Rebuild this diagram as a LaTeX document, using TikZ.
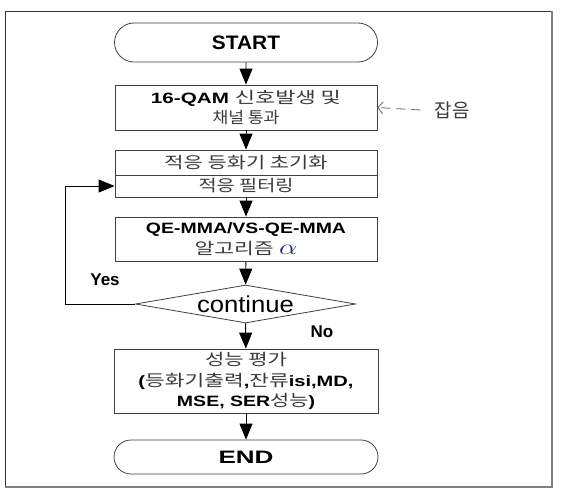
\documentclass[tikz,border=0pt]{standalone}
\usepackage{fontspec}
\usepackage{graphicx}
\setmainfont{Liberation Sans}
\newfontfamily\kr{Noto Sans CJK KR}
\usetikzlibrary{shapes.geometric,shapes.misc,arrows.meta}
\newcommand\fw[2]{\resizebox{#1pt}{\height}{#2}}
\newcommand\kk[1]{{\kr\fontsize{16}{20.5}\selectfont\color{krgray}#1}}
\definecolor{krgray}{HTML}{3A3A3A}
\definecolor{alphablue}{HTML}{1F2F7A}
\begin{document}
\begin{tikzpicture}[x=1pt,y=-1pt,
  box/.style={draw=black!75, line width=0.8pt, rectangle, minimum width=262pt, inner sep=0pt, align=center, font=\fontsize{15}{20.5}\selectfont},
  term/.style={draw=black!75, line width=0.8pt, rounded rectangle, minimum width=263pt, inner sep=0pt},
  arr/.style={-{Triangle[length=16pt,width=13pt]}, line width=0.9pt, black},
  kt/.style={text=krgray}]
\useasboundingbox (0,0) rectangle (572,489);
\fill[white] (0,0) rectangle (572,489);
% frame
\draw[black!80, line width=0.8pt] (552,11) -- (5,11) -- (5,487);
\draw[gray, line width=1.8pt] (5,487) -- (552,487) -- (552,11);
% nodes
\node[term, minimum height=39pt, font=\bfseries\fontsize{19.5}{20}\selectfont] (start) at (246,42.5) {\fw{68}{START}};
\node[box, minimum height=45pt] (b1) at (246,107.5) {\fw{190}{\textbf{16-QAM} \kk{신호발생 및}}\\ \fw{67}{\kk{채널 통과}}};
\node[box, minimum height=25pt] (b2a) at (246,162.5) {\fw{163}{\kk{적응 등화기 초기화}}};
\node[box, minimum height=22pt] (b2b) at (246,186) {\fw{95}{\kk{적응 필터링}}};
\node[box, minimum height=44pt] (b3) at (246,239) {\fw{200}{\textbf{QE-MMA/VS-QE-MMA}}\\ \fw{103}{\kk{알고리즘} \textcolor{alphablue}{\scalebox{1.5}{$\alpha$}}}};
\node[draw=black!75, line width=0.8pt, diamond, aspect=5.8, inner sep=0pt, minimum width=220pt, minimum height=38pt, font=\fontsize{23}{24}\selectfont] (d) at (245.5,304) {\fw{97}{continue}};
\node[box, minimum height=64pt, minimum width=264pt] (b4) at (246,381) {\fw{82}{\kk{성능 평가}}\\ \fw{215}{\textbf{(}\kk{등화기출력}\textbf{,}\kk{잔류}\textbf{isi,MD,}}\\ \fw{138}{\textbf{MSE, SER}\kk{성능}\textbf{)}}};
\node[term, minimum height=34pt, minimum width=264pt, font=\bfseries\fontsize{18}{20}\selectfont] (end) at (246,457) {\fw{55}{END}};
\node[font=\fontsize{19}{20}\selectfont\kr, kt, inner xsep=14pt] (noise) at (452,110) {잡음};
\node[font=\bfseries\fontsize{17}{18}\selectfont] (yes) at (105,280) {Yes};
\node[font=\bfseries\fontsize{17}{18}\selectfont] (no) at (322,332) {No};
% connectors
\draw[arr] (start) -- (b1);
\draw[arr] (b1) -- (b2a);
\draw[arr] (b2b) -- (b3);
\draw[arr] (b3) -- (d);
\draw[arr] (d) -- (b4);
\draw[arr] (b4) -- (end);
\draw[arr] (d.west) -- ++(-70,0) |- (b2b.west);
\draw[black!60, line width=0.8pt, dash pattern=on 9pt off 6pt, -{Straight Barb[length=5pt,width=12pt]}] (noise.west) -- (b1.east);
\end{tikzpicture}
\end{document}
